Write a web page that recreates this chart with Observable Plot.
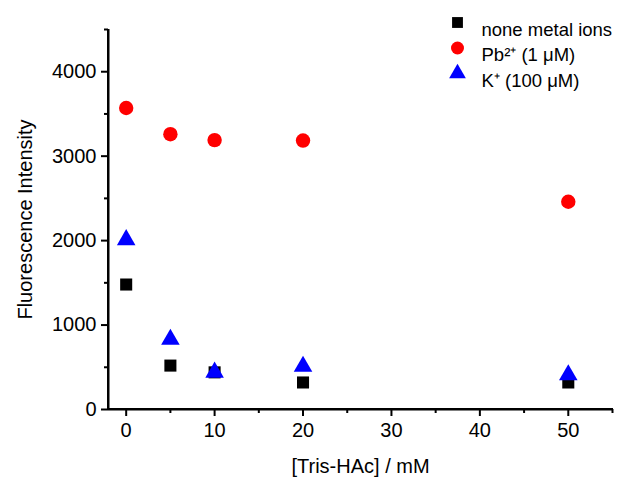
<!DOCTYPE html>
<html><head><meta charset="utf-8">
<script src="https://cdn.jsdelivr.net/npm/d3@7"></script>
<script src="https://cdn.jsdelivr.net/npm/@observablehq/plot@0.6"></script>
<style>body{margin:0;background:#fff;font-family:"Liberation Sans",Arial,sans-serif;}</style>
</head><body><div id="chart"></div>
<script>
const concentrations = [0, 5, 10, 20, 50];
const noneMetal = [1480, 520, 440, 320, 320];
const pb = [3570, 3260, 3190, 3185, 2460];
const kPlus = [2010, 830, 440, 510, 410];
const seriesNames = ["none metal ions", "Pb²⁺ (1 μM)", "K⁺ (100 μM)"];
const xDomain = [-2, 55];
const yDomain = [0, 4500];
const xMajor = [0, 10, 20, 30, 40, 50];
const xMinor = [5, 15, 25, 35, 45, 55];
const yMajor = [0, 1000, 2000, 3000, 4000];
const yMinor = [500, 1500, 2500, 3500, 4500];

const toRows = (vals) => concentrations.map((c, i) => ({x: c, y: vals[i]}));

const legendRows = seriesNames.map((n, i) => ({name: n, i}));
const symbols = ["square", "circle", "triangle"];
const colors = ["#000000", "#ff0000", "#0000ff"];
const radii = [6.8, 7.2, 6.9];

const plot = Plot.plot({
  width: 627, height: 479,
  marginLeft: 108, marginRight: 15, marginTop: 29, marginBottom: 70,
  x: {domain: xDomain},
  y: {domain: yDomain},
  style: {fontFamily: "Liberation Sans, Arial, sans-serif", fontSize: "20px"},
  marks: [
    // axis lines drawn as thin filled rects
    Plot.rect([0], {x1: xDomain[0], x2: xDomain[1], y1: yDomain[0], y2: yDomain[0],
      insetTop: -1, insetBottom: -1, insetRight: -1, fill: "black"}),
    Plot.rect([0], {x1: xDomain[0], x2: xDomain[0], y1: yDomain[0], y2: yDomain[1],
      insetLeft: -1, insetRight: -1, insetBottom: -1, fill: "black"}),
    Plot.axisX({ticks: xMajor, tickSize: 7, tickPadding: 6, strokeWidth: 2, tickFormat: d3.format("d"),
      label: "[Tris-HAc] / mM", labelAnchor: "center", labelOffset: 63, labelArrow: "none"}),
    Plot.axisX({ticks: xMinor, tickSize: 4, tickFormat: () => "", strokeWidth: 2, label: null}),
    Plot.axisY({ticks: yMajor, tickSize: 7, tickPadding: 5, strokeWidth: 2, tickFormat: d3.format("d"),
      label: "Fluorescence Intensity", labelAnchor: "center", labelOffset: 91, labelArrow: "none"}),
    Plot.axisY({ticks: yMinor, tickSize: 4, tickFormat: () => "", strokeWidth: 2, label: null}),
    Plot.ruleX([xDomain[0]], {stroke: "black", strokeWidth: 2}),
    Plot.ruleY([yDomain[0]], {stroke: "black", strokeWidth: 2}),
    Plot.dot(toRows(noneMetal), {x: "x", y: "y", symbol: "square", r: radii[0], fill: colors[0]}),
    Plot.dot(toRows(pb), {x: "x", y: "y", symbol: "circle", r: radii[1], fill: colors[1]}),
    Plot.dot(toRows(kPlus), {x: "x", y: "y", symbol: "triangle", r: radii[2], fill: colors[2]}),
    // legend
    ...legendRows.map(d => Plot.dot([d], {frameAnchor: "top-left", dx: 349, dy: -7 + d.i * 25.5,
      symbol: symbols[d.i], r: radii[d.i] * 0.9, fill: colors[d.i]})),
    ...legendRows.map(d => Plot.text([d], {frameAnchor: "top-left", dx: 373, dy: -7 + d.i * 25.5,
      text: "name", textAnchor: "start", fontSize: 18.5, fill: "black"}))
  ]
});
document.getElementById("chart").append(plot);
</script></body></html>
